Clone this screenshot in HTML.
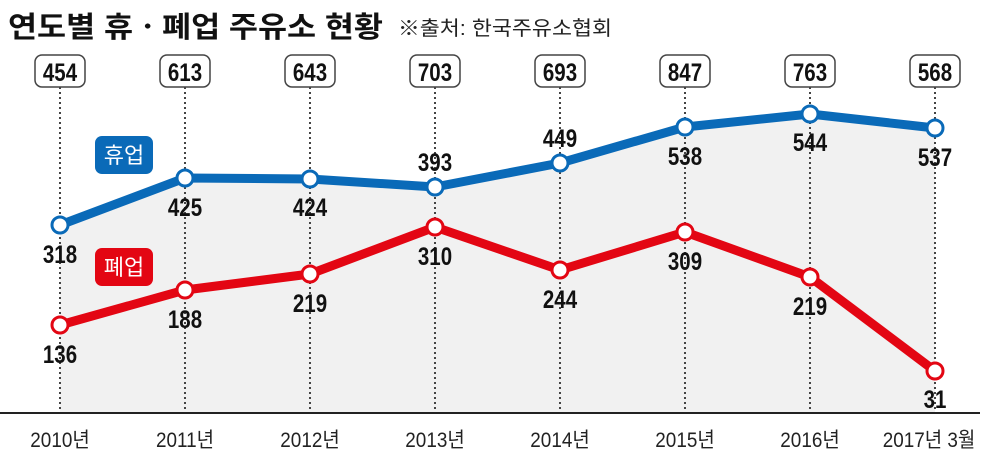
<!DOCTYPE html>
<html><head><meta charset="utf-8"><style>
body{margin:0;background:#fff}
text{font-family:"Liberation Sans","Noto Sans CJK KR",sans-serif}
</style></head><body>
<svg width="1000" height="464" viewBox="0 0 1000 464" xmlns="http://www.w3.org/2000/svg">
<text x="8" y="37" font-size="29" font-weight="bold" fill="#111" font-family="Noto Sans CJK KR, sans-serif" textLength="375" lengthAdjust="spacingAndGlyphs">연도별 휴ㆍ폐업 주유소 현황</text>
<text x="398" y="35" font-size="20" fill="#222" font-family="Noto Sans CJK KR, sans-serif" textLength="214" lengthAdjust="spacingAndGlyphs">※출처: 한국주유소협회</text>
<polygon points="60,225 185,178 310,179 435,187 560,163 685,127 810,114 935,128 935,412 60,412" fill="#f1f1f1"/>
<g stroke="#444" stroke-width="2" stroke-dasharray="2,3">
<line x1="60" y1="87" x2="60" y2="412"/><line x1="185" y1="87" x2="185" y2="412"/><line x1="310" y1="87" x2="310" y2="412"/><line x1="435" y1="87" x2="435" y2="412"/><line x1="560" y1="87" x2="560" y2="412"/><line x1="685" y1="87" x2="685" y2="412"/><line x1="810" y1="87" x2="810" y2="412"/><line x1="935" y1="87" x2="935" y2="412"/>
</g>
<line x1="0" y1="413" x2="980" y2="413" stroke="#222" stroke-width="2"/>
<g fill="#fff" stroke="#444" stroke-width="1.5">
<rect x="35" y="55" width="50" height="32" rx="7"/><rect x="160" y="55" width="50" height="32" rx="7"/><rect x="285" y="55" width="50" height="32" rx="7"/><rect x="410" y="55" width="50" height="32" rx="7"/><rect x="535" y="55" width="50" height="32" rx="7"/><rect x="660" y="55" width="50" height="32" rx="7"/><rect x="785" y="55" width="50" height="32" rx="7"/><rect x="910" y="55" width="50" height="32" rx="7"/>
</g>
<g font-size="25" font-weight="bold" fill="#111" text-anchor="middle">
<text transform="translate(60 81) scale(0.82 1)">454</text><text transform="translate(185 81) scale(0.82 1)">613</text><text transform="translate(310 81) scale(0.82 1)">643</text><text transform="translate(435 81) scale(0.82 1)">703</text><text transform="translate(560 81) scale(0.82 1)">693</text><text transform="translate(685 81) scale(0.82 1)">847</text><text transform="translate(810 81) scale(0.82 1)">763</text><text transform="translate(935 81) scale(0.82 1)">568</text>
</g>
<polyline points="60,225 185,178 310,179 435,187 560,163 685,127 810,114 935,128" fill="none" stroke="#0a6ab8" stroke-width="9" stroke-linejoin="round"/>
<polyline points="60,325 185,290 310,274 435,227 560,270 685,232 810,277 935,371" fill="none" stroke="#e30613" stroke-width="9" stroke-linejoin="round"/>
<g fill="#fff" stroke="#0a6ab8" stroke-width="3">
<circle cx="60" cy="225" r="8"/><circle cx="185" cy="178" r="8"/><circle cx="310" cy="179" r="8"/><circle cx="435" cy="187" r="8"/><circle cx="560" cy="163" r="8"/><circle cx="685" cy="127" r="8"/><circle cx="810" cy="114" r="8"/><circle cx="935" cy="128" r="8"/>
</g>
<g fill="#fff" stroke="#e30613" stroke-width="3">
<circle cx="60" cy="325" r="8"/><circle cx="185" cy="290" r="8"/><circle cx="310" cy="274" r="8"/><circle cx="435" cy="227" r="8"/><circle cx="560" cy="270" r="8"/><circle cx="685" cy="232" r="8"/><circle cx="810" cy="277" r="8"/><circle cx="935" cy="371" r="8"/>
</g>
<g font-size="25" font-weight="bold" fill="#111" text-anchor="middle">
<text transform="translate(60 263) scale(0.82 1)">318</text><text transform="translate(185 216) scale(0.82 1)">425</text><text transform="translate(310 216) scale(0.82 1)">424</text><text transform="translate(435 171) scale(0.82 1)">393</text><text transform="translate(560 147) scale(0.82 1)">449</text><text transform="translate(685 165) scale(0.82 1)">538</text><text transform="translate(810 151) scale(0.82 1)">544</text><text transform="translate(935 166) scale(0.82 1)">537</text>
<text transform="translate(60 363) scale(0.82 1)">136</text><text transform="translate(185 328) scale(0.82 1)">188</text><text transform="translate(310 312) scale(0.82 1)">219</text><text transform="translate(435 265) scale(0.82 1)">310</text><text transform="translate(560 308) scale(0.82 1)">244</text><text transform="translate(685 270) scale(0.82 1)">309</text><text transform="translate(810 315) scale(0.82 1)">219</text><text transform="translate(935 408) scale(0.82 1)">31</text>
</g>
<rect x="95" y="136" width="58" height="38" rx="7" fill="#0a6ab8"/>
<text x="124" y="163" font-size="22" fill="#fff" text-anchor="middle" font-family="Noto Sans CJK KR, sans-serif">휴업</text>
<rect x="95" y="248" width="58" height="38" rx="7" fill="#e30613"/>
<text x="124" y="275" font-size="22" fill="#fff" text-anchor="middle" font-family="Noto Sans CJK KR, sans-serif">폐업</text>
<g font-size="21" fill="#222" text-anchor="middle">
<text transform="translate(60 447) scale(0.9 1)">2010년</text><text transform="translate(185 447) scale(0.9 1)">2011년</text><text transform="translate(310 447) scale(0.9 1)">2012년</text><text transform="translate(435 447) scale(0.9 1)">2013년</text><text transform="translate(560 447) scale(0.9 1)">2014년</text><text transform="translate(685 447) scale(0.9 1)">2015년</text><text transform="translate(810 447) scale(0.9 1)">2016년</text><text transform="translate(929 447) scale(0.9 1)">2017년 3월</text>
</g>
</svg>
</body></html>
